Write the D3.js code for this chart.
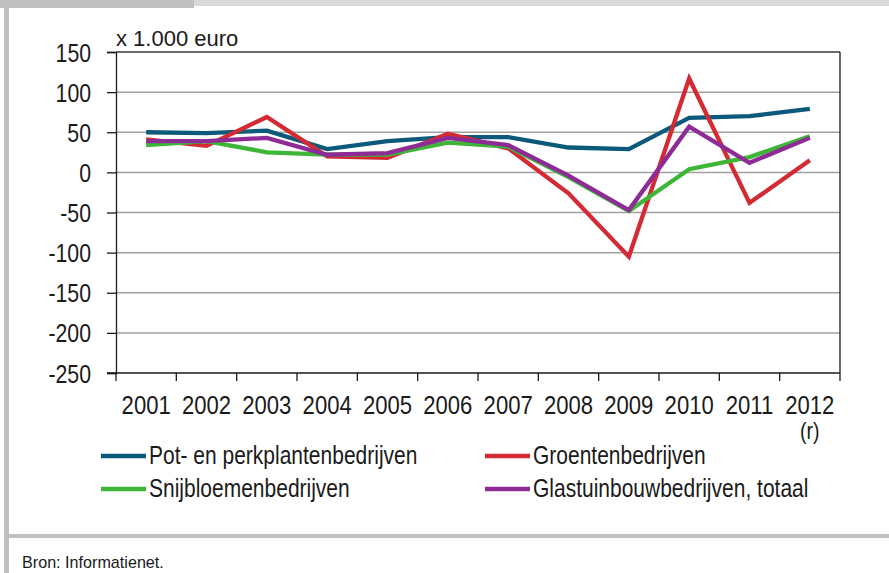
<!DOCTYPE html>
<html>
<head>
<meta charset="utf-8">
<script src="https://cdn.jsdelivr.net/npm/d3@7"></script>
<style>
  html, body { margin: 0; padding: 0; background: #fff; }
  svg { display: block; }
  text { font-family: "Liberation Sans", Arial, sans-serif; fill: #1a1a1a; }
</style>
</head>
<body>
<svg id="chart" width="889" height="573"></svg>
<script>
const years = ["2001","2002","2003","2004","2005","2006","2007","2008","2009","2010","2011","2012"];
const potPerk     = [50, 49, 52, 29, 39, 44, 44, 31, 29, 68, 70, 79];
const groenten    = [41, 33, 69, 20, 18, 48, 30, -26, -105, 117, -38, 15];
const snijbloemen = [34, 39, 25, 22, 22, 37, 32, -6, -48, 4, 19, 45];
const totaal      = [39, 39, 43, 22, 24, 43, 34, -4, -47, 57, 12, 43];
const yTicks = [150, 100, 50, 0, -50, -100, -150, -200, -250];
const seriesNames = ["Pot- en perkplantenbedrijven", "Groentenbedrijven", "Snijbloemenbedrijven", "Glastuinbouwbedrijven, totaal"];
const seriesColors = ["#0b5a7c", "#d42a34", "#3db637", "#8e2c96"];
const unitLabel = "x 1.000 euro";
const yearNote = "(r)";
const sourceLabel = "Bron: Informatienet.";

const series = [potPerk, groenten, snijbloemen, totaal].map((vals, i) => ({
  name: seriesNames[i], color: seriesColors[i],
  values: vals.map((v, j) => ({ year: years[j], value: v }))
}));

const svg = d3.select("#chart");
const SX = 0.85; // horizontal compression to mimic a narrow font

function narrowText(parent, px, py, str, size, sx, anchor) {
  return parent.append("text")
    .attr("transform", `translate(${px},${py}) scale(${sx},1)`)
    .attr("text-anchor", anchor || "start")
    .attr("font-size", size)
    .text(str);
}

// frame
svg.append("rect").attr("x", 0).attr("y", 0).attr("width", 194).attr("height", 8).attr("fill", "#c0c0c0");
svg.append("rect").attr("x", 194).attr("y", 0).attr("width", 695).attr("height", 6).attr("fill", "#d9d9d9");
svg.append("rect").attr("x", 4).attr("y", 0).attr("width", 5).attr("height", 573).attr("fill", "#c0c0c0");
svg.append("rect").attr("x", 4).attr("y", 534).attr("width", 885).attr("height", 4).attr("fill", "#c0c0c0");

const pL = 116, pR = 840, pT = 52, pB = 373;
const x = d3.scaleBand().domain(years).range([pL, pR]).padding(0);
const y = d3.scaleLinear().domain([-250, 150]).range([pB, pT]);

// gridlines
svg.append("g").selectAll("line").data(yTicks.filter(t => t !== -250 && t !== 150)).join("line")
  .attr("x1", pL).attr("x2", pR)
  .attr("y1", d => y(d)).attr("y2", d => y(d))
  .attr("stroke", "#a0a0a0").attr("stroke-width", 1.5);

// top & right border
svg.append("line").attr("x1", pL).attr("x2", pR).attr("y1", y(150)).attr("y2", y(150))
  .attr("stroke", "#3a3a3a").attr("stroke-width", 1.3);
svg.append("line").attr("x1", pR).attr("x2", pR).attr("y1", pT).attr("y2", pB)
  .attr("stroke", "#1a1a1a").attr("stroke-width", 1.3);

// y axis
const yAxis = d3.axisLeft(y).tickValues(yTicks).tickSize(9).tickPadding(15).tickFormat(d => String(d));
const gy = svg.append("g").attr("transform", `translate(${pL},0)`).call(yAxis);
gy.select(".domain").attr("stroke", "#1a1a1a").attr("stroke-width", 1.3);
gy.selectAll(".tick line").attr("stroke", "#1a1a1a").attr("stroke-width", 1.3);
gy.selectAll(".tick text")
  .attr("font-size", 25).attr("fill", "#1a1a1a")
  .attr("x", null).attr("dy", null)
  .attr("transform", `translate(-25,9) scale(${SX},1)`)
  .style("font-family", '"Liberation Sans", Arial, sans-serif');

// x axis with ticks between categories
const gx = svg.append("g").attr("transform", `translate(0,${pB})`);
gx.append("line").attr("x1", pL - 9).attr("x2", pR).attr("y1", 0).attr("y2", 0)
  .attr("stroke", "#1a1a1a").attr("stroke-width", 1.3);
const boundaries = years.map(d => x(d)).concat([x(years[years.length - 1]) + x.bandwidth()]);
gx.selectAll("line.tk").data(boundaries).join("line").attr("class", "tk")
  .attr("x1", d => d).attr("x2", d => d).attr("y1", 0).attr("y2", 8)
  .attr("stroke", "#1a1a1a").attr("stroke-width", 1.3);
years.forEach(yr => narrowText(gx, x(yr) + x.bandwidth() / 2, 41, yr, 26, SX, "middle"));
narrowText(gx, x("2012") + x.bandwidth() / 2, 66, yearNote, 23, SX, "middle");

// unit label
narrowText(svg, 116, 46, unitLabel, 22, 1.0, "start");

// lines
const line = d3.line().x(d => x(d.year) + x.bandwidth() / 2).y(d => y(d.value));
svg.append("g").selectAll("path").data(series).join("path")
  .attr("d", d => line(d.values))
  .attr("fill", "none").attr("stroke", d => d.color).attr("stroke-width", 4.3);

// legend
const legendPos = [[101, 456], [485, 456], [101, 489], [485, 489]];
series.forEach((s, i) => {
  const g = svg.append("g").attr("transform", `translate(${legendPos[i][0]},${legendPos[i][1]})`);
  g.append("line").attr("x1", 0).attr("x2", 45).attr("y1", 0).attr("y2", 0)
    .attr("stroke", s.color).attr("stroke-width", 4.3);
  narrowText(g, 48, 8, s.name, 25, 0.84, "start");
});

// source
narrowText(svg, 22, 568, sourceLabel, 17, 0.95, "start");
</script>
</body>
</html>
